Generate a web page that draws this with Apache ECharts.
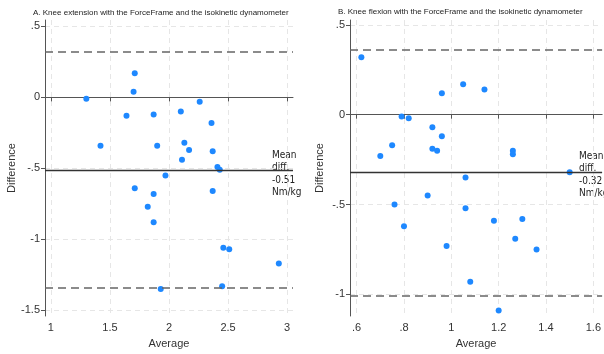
<!DOCTYPE html>
<html>
<head>
<meta charset="utf-8">
<script src="https://cdn.jsdelivr.net/npm/echarts@6/dist/echarts.min.js"></script>
<style>
html, body { margin: 0; padding: 0; background: #fff; }
#chart { width: 604px; height: 354px; }
</style>
</head>
<body>
<div id="chart"></div>
<script>
// A. knee extension: [average, difference]
var extPoints = [
  [1.30, -0.01], [1.71, 0.17], [1.70, 0.04], [1.64, -0.13], [1.42, -0.34],
  [1.87, -0.12], [1.90, -0.34], [2.10, -0.10], [2.26, -0.03], [2.36, -0.18],
  [2.13, -0.32], [2.17, -0.37], [2.37, -0.38], [2.11, -0.44], [2.41, -0.49],
  [2.43, -0.51], [1.97, -0.55], [1.71, -0.64], [1.87, -0.68], [1.82, -0.77],
  [1.87, -0.88], [2.37, -0.66], [2.46, -1.06], [2.51, -1.07], [2.93, -1.17],
  [2.45, -1.33], [1.93, -1.35]
]
var extMean = -0.51
var extUpper = 0.32
var extLower = -1.34
var extXTicks = [1, 1.5, 2, 2.5, 3]
var extYTicks = [-1.5, -1, -0.5, 0, 0.5]

// B. knee flexion: [average, difference]
var flxPoints = [
  [0.62, 0.32], [1.05, 0.17], [1.14, 0.14], [0.96, 0.12], [0.79, -0.01],
  [0.82, -0.02], [0.92, -0.07], [0.96, -0.12], [0.75, -0.17], [0.70, -0.23],
  [0.92, -0.19], [0.94, -0.20], [1.26, -0.20], [1.26, -0.22], [1.50, -0.32],
  [1.06, -0.35], [0.76, -0.50], [0.90, -0.45], [0.80, -0.62], [1.06, -0.52],
  [1.18, -0.59], [1.30, -0.58], [1.27, -0.69], [1.36, -0.75], [0.98, -0.73],
  [1.08, -0.93], [1.20, -1.09]
]
var flxMean = -0.32
var flxUpper = 0.36
var flxLower = -1.01
var flxXTicks = [0.6, 0.8, 1, 1.2, 1.4, 1.6]
var flxYTicks = [-1, -0.5, 0, 0.5]

var chart = echarts.init(document.getElementById('chart'))

// stata style labels: .5, -.5
function stataFmt(v) {
  var s = String(Math.round(v * 100) / 100)
  return s.replace(/^0\./, '.').replace(/^-0\./, '-.')
}

var labelStyle = { color: '#333', fontSize: 11, fontFamily: 'Liberation Sans, Arial' }

function makeAxis(gridIndex, min, max, ticks, isX, gap) {
  return {
    type: 'value',
    gridIndex: gridIndex,
    min: min,
    max: max,
    axisLine: { show: true, lineStyle: { color: '#555', width: 1 } },
    axisTick: { show: true, length: 4, lineStyle: { color: '#555' }, customValues: ticks },
    axisLabel: Object.assign({ customValues: ticks, formatter: stataFmt, margin: isX ? 6 : 5 }, labelStyle),
    splitLine: { show: true, lineStyle: { color: '#e6e6e6', type: [5, 4], width: 1 } },
    name: isX ? 'Average' : 'Difference',
    nameLocation: 'middle',
    nameGap: gap,
    nameTextStyle: { color: '#333', fontSize: 11, fontFamily: 'Liberation Sans, Arial' }
  }
}

function refLines(mean, upper, lower) {
  return {
    silent: true,
    symbol: 'none',
    label: { show: false },
    data: [
      { yAxis: upper, lineStyle: { color: '#666', type: [8, 5], width: 1.5 } },
      { yAxis: lower, lineStyle: { color: '#666', type: [8, 5], width: 1.5 } },
      { yAxis: mean, lineStyle: { color: '#333', type: 'solid', width: 1.3 } }
    ]
  }
}

var meanText = { fontSize: 10, lineHeight: 12.5, fill: '#222', fontFamily: 'Liberation Sans Narrow, DejaVu Sans Condensed, Liberation Sans' }
var titleStyle = { fontSize: 8, fontWeight: 'normal', color: '#222', fontFamily: 'Liberation Sans, Arial' }

chart.setOption({
  animation: false,
  title: [
    {
      text: 'A. Knee extension with the ForceFrame and the isokinetic dynamometer',
      left: 33, top: 9, padding: 0,
      textStyle: titleStyle
    },
    {
      text: 'B. Knee flexion with the ForceFrame and the isokinetic dynamometer',
      left: 338, top: 8, padding: 0,
      textStyle: titleStyle
    }
  ],
  grid: [
    { left: 45, right: 311, top: 20, bottom: 34 },
    { left: 350, right: 0, top: 20, bottom: 34 }
  ],
  xAxis: [
    makeAxis(0, 0.95, 3.05, extXTicks, true, 22),
    makeAxis(1, 0.572, 1.637, flxXTicks, true, 22)
  ],
  yAxis: [
    makeAxis(0, -1.54, 0.545, extYTicks, false, 27),
    makeAxis(1, -1.12, 0.527, flxYTicks, false, 25)
  ],
  series: [
    {
      type: 'scatter',
      xAxisIndex: 0,
      yAxisIndex: 0,
      symbolSize: 6,
      itemStyle: { color: '#1e88ff', opacity: 1 },
      data: extPoints,
      markLine: refLines(extMean, extUpper, extLower)
    },
    {
      type: 'scatter',
      xAxisIndex: 1,
      yAxisIndex: 1,
      symbolSize: 6,
      itemStyle: { color: '#1e88ff', opacity: 1 },
      data: flxPoints,
      markLine: refLines(flxMean, flxUpper, flxLower)
    }
  ],
  graphic: [
    { type: 'text', left: 272, top: 149, style: Object.assign({ text: 'Mean\ndiff.\n' + extMean.toFixed(2) + '\nNm/kg' }, meanText) },
    { type: 'text', left: 579, top: 150, style: Object.assign({ text: 'Mean\ndiff.\n' + flxMean.toFixed(2) + '\nNm/kg' }, meanText) }
  ]
})
</script>
</body>
</html>
